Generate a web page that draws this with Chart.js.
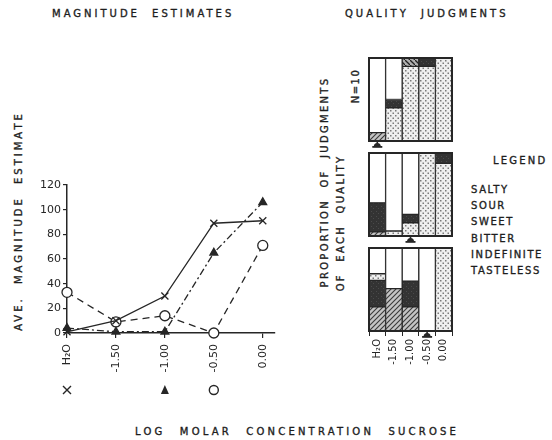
<!DOCTYPE html>
<html>
<head>
<meta charset="utf-8">
<script src="https://cdn.jsdelivr.net/npm/chart.js@4.4.0/dist/chart.umd.min.js"></script>
<style>
  body { margin:0; background:#fff; }
  #wrap { position:relative; width:552px; height:440px; overflow:hidden; background:#fff; }
  canvas { position:absolute; }
  .t { position:absolute; font-family:"DejaVu Sans", sans-serif; font-size:10px; color:#1e1e1e;
       -webkit-text-stroke:0.35px #1e1e1e;
       letter-spacing:2.6px; word-spacing:6px; white-space:nowrap; line-height:10px; }
  .rot { transform:translate(-50%,-50%) rotate(-90deg); }
</style>
</head>
<body>
<div id="wrap">
  <div class="t" style="left:52px;top:9px;letter-spacing:3px;">MAGNITUDE ESTIMATES</div>
  <div class="t" style="left:345px;top:9px;letter-spacing:3px;">QUALITY JUDGMENTS</div>
  <div class="t" style="left:135px;top:427px;letter-spacing:3.2px;word-spacing:8px;">LOG MOLAR CONCENTRATION SUCROSE</div>
  <div class="t rot" style="left:19px;top:221px;letter-spacing:3px;">AVE. MAGNITUDE ESTIMATE</div>
  <div class="t rot" style="left:325px;top:182px;letter-spacing:2.3px;">PROPORTION OF JUDGMENTS</div>
  <div class="t rot" style="left:341px;top:223px;letter-spacing:2.3px;">OF EACH QUALITY</div>
  <div class="t rot" style="left:356px;top:86px;letter-spacing:1.5px;">N=10</div>
  <div class="t" style="left:493px;top:156px;letter-spacing:2.2px;">LEGEND</div>
  <div id="legend"></div>

  <canvas id="lineChart" style="left:0;top:170px;" width="290" height="230"></canvas>
  <canvas id="panel1" style="left:360px;top:50px;" width="100" height="100"></canvas>
  <canvas id="panel2" style="left:360px;top:145px;" width="100" height="100"></canvas>
  <canvas id="panel3" style="left:360px;top:240px;" width="100" height="145"></canvas>
</div>
<script>
// ---- data
const xLabels = ['H₂O', '-1.50', '-1.00', '-0.50', '0.00'];
const crossSeries = [1, 10, 30, 89, 91];
const triSeries = [4, 1, 1, 65, 106];
const circSeries = [33, 9, 14, 0, 71];
// threshold concentration (index in xLabels) for each series
const thresholds = [0, 2, 3];

const qualities = ['SALTY', 'SOUR', 'SWEET', 'BITTER', 'INDEFINITE', 'TASTELESS'];
// panel 1 : X series
const p1Salty = [1, 0, 0, 0, 0];
const p1Sour = [0, 0, 0, 0, 0];
const p1Sweet = [0, 4, 9, 9, 10];
const p1Bitter = [0, 1, 0, 1, 0];
const p1Indef = [0, 0, 1, 0, 0];
const p1Tasteless = [9, 5, 0, 0, 0];
// panel 2 : triangle series
const p2Salty = [0.5, 0, 0, 0, 0];
const p2Sour = [3.5, 0, 0, 0, 0];
const p2Sweet = [0, 0.6, 1.6, 10, 8.75];
const p2Bitter = [0, 0, 1, 0, 1.25];
const p2Indef = [0, 0, 0, 0, 0];
const p2Tasteless = [6, 9.4, 7.4, 0, 0];
// panel 3 : circle series
const p3Salty = [2.9, 5.1, 2.9, 0, 0];
const p3Sour = [3.2, 0, 3.1, 0, 0];
const p3Sweet = [0.8, 0, 0, 0, 10];
const p3Bitter = [0, 0, 0, 0, 0];
const p3Indef = [0, 0, 0, 0, 0];
const p3Tasteless = [3.1, 4.9, 4, 10, 0];

const ink = '#262626';
const fam = 'DejaVu Sans';

// legend text
var lg = document.getElementById('legend');
for (var i = 0; i < qualities.length; i++) {
    var d = document.createElement('div');
    d.className = 't';
    d.style.left = '471px';
    d.style.top = (185 + i * 16.2) + 'px';
    d.style.letterSpacing = '1.6px';
    d.textContent = qualities[i];
    lg.appendChild(d);
}

// ---- fill patterns
function makePattern(kind) {
    var c = document.createElement('canvas');
    c.width = 5; c.height = 5;
    var g = c.getContext('2d');
    if (kind == 'hatch') {
        g.fillStyle = '#c4c4c4'; g.fillRect(0, 0, 5, 5);
        g.strokeStyle = '#3a3a3a'; g.lineWidth = 1.1;
        g.beginPath();
        g.moveTo(0, 5); g.lineTo(5, 0);
        g.moveTo(-1, 1); g.lineTo(1, -1);
        g.moveTo(4, 6); g.lineTo(6, 4);
        g.stroke();
    } else if (kind == 'dark') {
        g.fillStyle = '#333'; g.fillRect(0, 0, 5, 5);
        g.fillStyle = '#4a4a4a'; g.fillRect(1, 1, 1, 1); g.fillRect(3, 3, 1, 1);
    } else if (kind == 'dots') {
        g.fillStyle = '#efefef'; g.fillRect(0, 0, 5, 5);
        g.fillStyle = '#7a7a7a';
        g.fillRect(0, 0, 1.5, 1.5); g.fillRect(2.5, 2.5, 1.5, 1.5);
    } else if (kind == 'hatch2') {
        g.fillStyle = '#b0b0b0'; g.fillRect(0, 0, 5, 5);
        g.strokeStyle = '#222'; g.lineWidth = 1.3;
        g.beginPath();
        g.moveTo(0, 0); g.lineTo(5, 5);
        g.stroke();
    } else {
        g.fillStyle = '#fff'; g.fillRect(0, 0, 5, 5);
    }
    return g.createPattern(c, 'repeat');
}
const fills = [makePattern('hatch'), makePattern('dark'), makePattern('dots'),
               makePattern('dark'), makePattern('hatch2'), makePattern('white')];

// ---- magnitude estimate line chart
function pts(arr) {
    return arr.map(function (v, i) { return { x: i, y: v }; });
}

const markRow = {
    id: 'markRow',
    afterDraw: function (chart) {
        var ctx = chart.ctx;
        var xs = chart.scales.x;
        var y = 220;
        ctx.save();
        ctx.strokeStyle = ink; ctx.fillStyle = ink; ctx.lineWidth = 1.4;
        // X
        var x = xs.getPixelForValue(thresholds[0]);
        ctx.beginPath();
        ctx.moveTo(x - 4, y - 4); ctx.lineTo(x + 4, y + 4);
        ctx.moveTo(x + 4, y - 4); ctx.lineTo(x - 4, y + 4);
        ctx.stroke();
        // triangle
        x = xs.getPixelForValue(thresholds[1]);
        ctx.beginPath();
        ctx.moveTo(x, y - 5); ctx.lineTo(x + 4, y + 4); ctx.lineTo(x - 4, y + 4);
        ctx.closePath(); ctx.fill();
        // circle
        x = xs.getPixelForValue(thresholds[2]);
        ctx.beginPath();
        ctx.arc(x, y, 4.5, 0, Math.PI * 2);
        ctx.stroke();
        ctx.restore();
    }
};

new Chart(document.getElementById('lineChart').getContext('2d'), {
    type: 'line',
    data: {
        datasets: [{
            label: 'X',
            data: pts(crossSeries),
            borderColor: ink, borderWidth: 1.3,
            pointStyle: 'crossRot', pointRadius: 5, pointBorderWidth: 1.3,
            pointBorderColor: ink, clip: false
        }, {
            label: 'triangle',
            data: pts(triSeries),
            borderColor: ink, borderWidth: 1.3, borderDash: [7, 3, 2, 3],
            pointStyle: 'triangle', pointRadius: 4.5, pointBackgroundColor: ink,
            pointBorderColor: ink, clip: false
        }, {
            label: 'circle',
            data: pts(circSeries),
            borderColor: ink, borderWidth: 1.3, borderDash: [7, 5],
            pointStyle: 'circle', pointRadius: 5, pointBackgroundColor: '#fff',
            pointBorderColor: ink, pointBorderWidth: 1.3, clip: false
        }]
    },
    options: {
        responsive: false,
        animation: false,
        layout: { padding: { top: 15, right: 15, left: 0, bottom: 0 } },
        plugins: { legend: { display: false }, tooltip: { enabled: false } },
        scales: {
            x: {
                type: 'linear', min: 0, max: 4.25,
                ticks: {
                    minRotation: 90, maxRotation: 90, padding: 6, autoSkip: false,
                    color: ink, font: { family: fam, size: 11 },
                    callback: function (v) { return xLabels[v] !== undefined ? xLabels[v] : ''; }
                },
                afterBuildTicks: function (s) {
                    s.ticks = xLabels.map(function (l, i) { return { value: i }; });
                },
                afterFit: function (s) { s.height = 67; },
                grid: { drawOnChartArea: false, drawTicks: true, tickLength: 5, color: ink, lineWidth: 1.2 },
                border: { color: ink, width: 1.5 }
            },
            y: {
                min: 0, max: 120,
                ticks: { stepSize: 20, padding: 2, color: ink, font: { family: fam, size: 11 } },
                afterFit: function (s) { s.width = 67; },
                grid: { drawOnChartArea: false, drawTicks: true, tickLength: 4, color: ink, lineWidth: 1.2 },
                border: { color: ink, width: 1.5 }
            }
        }
    },
    plugins: [markRow]
});

// ---- quality judgment panels
const panelFrame = {
    id: 'panelFrame',
    afterDatasetsDraw: function (chart, args, opts) {
        var a = chart.chartArea;
        var ctx = chart.ctx;
        ctx.save();
        ctx.strokeStyle = ink; ctx.lineWidth = 2;
        ctx.strokeRect(a.left, a.top, a.right - a.left, a.bottom - a.top);
        // threshold mound under the bar
        var x = chart.scales.x.getPixelForValue(opts.mark);
        var y = a.bottom + 5.5;
        ctx.fillStyle = ink;
        ctx.beginPath();
        ctx.arc(x, y, 3.5, Math.PI, 0);
        ctx.closePath(); ctx.fill();
        ctx.fillRect(x - 5, y - 0.5, 10, 1.8);
        ctx.fillRect(x - 0.8, a.bottom, 1.6, 3);
        ctx.restore();
    }
};

function makePanel(id, rows, mark, showX) {
    var sets = rows.map(function (r, k) {
        return {
            label: qualities[k],
            data: r.map(function (v) { return v > 0 ? v : null; }),
            backgroundColor: fills[k],
            borderColor: ink, borderWidth: 1, borderSkipped: false,
            barPercentage: 1, categoryPercentage: 1
        };
    });
    new Chart(document.getElementById(id).getContext('2d'), {
        type: 'bar',
        data: { labels: xLabels, datasets: sets },
        options: {
            responsive: false,
            animation: false,
            layout: { padding: { top: 8, left: 9, right: 8, bottom: showX ? 0 : 9 } },
            plugins: { legend: { display: false }, tooltip: { enabled: false }, panelFrame: { mark: mark } },
            scales: {
                x: {
                    stacked: true, display: showX,
                    ticks: { minRotation: 90, maxRotation: 90, padding: 3, autoSkip: false, color: ink, font: { family: fam, size: 10 } },
                    afterFit: function (s) { s.height = showX ? 54 : 0; },
                    grid: { drawOnChartArea: false, drawTicks: true, tickLength: 5, color: ink },
                    border: { display: false }
                },
                y: { stacked: true, display: false, min: 0, max: 10 }
            }
        },
        plugins: [panelFrame]
    });
}

makePanel('panel1', [p1Salty, p1Sour, p1Sweet, p1Bitter, p1Indef, p1Tasteless], thresholds[0], false);
makePanel('panel2', [p2Salty, p2Sour, p2Sweet, p2Bitter, p2Indef, p2Tasteless], thresholds[1], false);
makePanel('panel3', [p3Salty, p3Sour, p3Sweet, p3Bitter, p3Indef, p3Tasteless], thresholds[2], true);
</script>
</body>
</html>
